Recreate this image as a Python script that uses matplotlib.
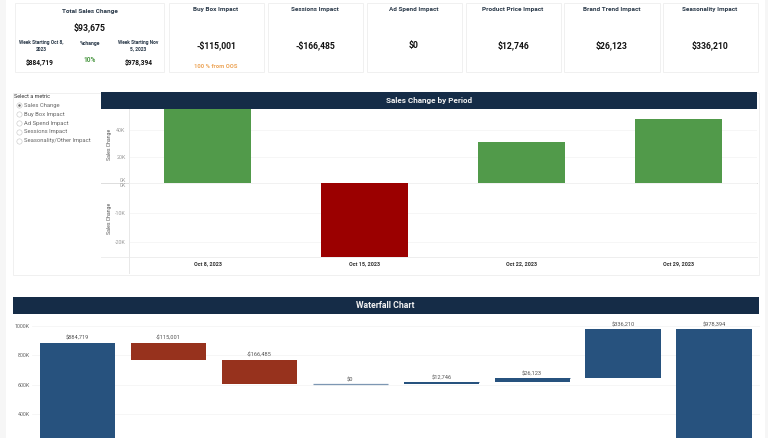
import matplotlib
matplotlib.use("Agg")
import matplotlib.pyplot as plt
from matplotlib.patches import Rectangle

plt.rcParams['font.family'] = ['Roboto', 'DejaVu Sans']

# ---- data ----
card_titles = ["Buy Box Impact", "Sessions Impact", "Ad Spend Impact", "Product Price Impact",
               "Brand Trend Impact", "Seasonality Impact"]
card_values = ["-$115,001", "-$166,485", "$0", "$12,746", "$26,123", "$336,210"]
total_title = "Total Sales Change"
total_value = "$93,675"
start_label = "Week Starting Oct 8,\n2023"
end_label = "Week Starting Nov\n5, 2023"
start_value = "$884,719"
end_value = "$978,394"
pct_label = "%change"
pct_value = "10%"
oos_note = "100 % from OOS"
metrics = ["Sales Change", "Buy Box Impact", "Ad Spend Impact", "Sessions Impact", "Seasonality/Other Impact"]

periods = ["Oct 8, 2023", "Oct 15, 2023", "Oct 22, 2023", "Oct 29, 2023"]
pos_changes = [55500, 0, 31000, 48300]
neg_changes = [0, -25100, 0, 0]
pos_ticks = [0, 20000, 40000]
neg_ticks = [0, -10000, -20000]

wf_labels = ["$884,719", "-$115,001", "-$166,485", "$0", "$12,746", "$26,123", "$336,210", "$978,394"]
wf_bottoms = [0, 769718, 603233, 603233, 603233, 615979, 642102, 0]
wf_tops = [884719, 884719, 769718, 603233, 615979, 642102, 978312, 978394]
wf_colors = ["#27527E", "#97321D", "#97321D", "#27527E", "#27527E", "#27527E", "#27527E", "#27527E"]
wf_ticks = [400000, 600000, 800000, 1000000]

W, H = 768, 438
NAVY = "#152C47"
DARK = "#222222"
GRAY = "#9a9a9a"
GRID = "#f5f5f5"
BORDER = "#f0f0f0"


def axes_px(x0, y0, x1, y1):
    return fig.add_axes([x0 / W, 1 - y1 / H, (x1 - x0) / W, (y1 - y0) / H])


def kfmt(v):
    return f"{v / 1000:.0f}K"


fig = plt.figure(figsize=(W / 100, H / 100), dpi=100, facecolor="white")

# page overlay in pixel coordinates
bg = fig.add_axes([0, 0, 1, 1], zorder=0)
bg.set_xlim(0, W)
bg.set_ylim(H, 0)
bg.axis("off")
bg.add_patch(Rectangle((0, 0), 6, H, fc="#f6f6f6", ec="none"))
bg.add_patch(Rectangle((765, 0), 3, H, fc="#f6f6f6", ec="none"))


def box(x0, y0, x1, y1):
    bg.add_patch(Rectangle((x0, y0), x1 - x0, y1 - y0, fc="white", ec=BORDER, lw=0.7))


def label(x, y, s, size=5.0, color=DARK, weight="normal", **kw):
    bg.text(x, y, s, fontsize=size, color=color, fontweight=weight, ha=kw.pop("ha", "center"),
            va=kw.pop("va", "center"), **kw)


# KPI cards
box(14.5, 2.5, 164, 71.5)
label(89.5, 12, total_title, 4.6, "#2b3a4a", "bold")
label(89.5, 27.5, total_value, 6.2, "#111111", "bold")
label(41, 46, start_label, 3.5, "#2b3a4a", "bold", linespacing=1.3)
label(138.5, 46, end_label, 3.5, "#2b3a4a", "bold", linespacing=1.3)
label(89.5, 43, pct_label, 3.7, "#2b3a4a", "bold")
label(89.5, 60, pct_value, 4.8, "#4f9a47", "bold")
label(40, 63, start_value, 4.8, "#111111", "bold")
label(138.5, 63, end_value, 4.8, "#111111", "bold")

card_x = [(168.5, 263.5), (267.5, 362.5), (366.5, 461.5), (465.5, 560.5), (563.5, 659.5), (662.5, 757.5)]
for (x0, x1), t, v in zip(card_x, card_titles, card_values):
    box(x0, 2.5, x1, 71.5)
    cx = (x0 + x1) / 2
    label(cx, 10, t, 4.6, "#2b3a4a", "bold")
    label(cx, 48.2, v, 6.2, "#111111", "bold", va="baseline")
label(216, 66.5, oos_note, 4.2, "#eda65a", "bold")

# top chart frame and metric selector
box(12.5, 92.5, 759, 275)
label(14.5, 96, "Select a metric", 4.0, "#333333", ha="left")
for i, m in enumerate(metrics):
    y = 105.3 + i * 8.85
    bg.plot([19], [y], "o", ms=3.8, mfc="white", mec="#c4c4c4", mew=0.4)
    if i == 0:
        bg.plot([19], [y], "o", ms=1.8, color="#666666", mew=0)
    label(23.5, y, m, 4.2, "#666666", ha="left")

# title bars
bg.add_patch(Rectangle((101, 92), 656, 16.5, fc=NAVY, ec="none"))
label(429, 100.5, "Sales Change by Period", 5.9, "#f2f2f2", "bold")
bg.add_patch(Rectangle((12.5, 296.5), 746.5, 17, fc=NAVY, ec="none"))
label(385.5, 305, "Waterfall Chart", 6.2, "#f2f2f2", "bold")

xs = range(len(periods))

# upper panel
ax1 = axes_px(129, 109, 757, 183.3)
ax1.patch.set_alpha(0)
ax1.bar(xs, pos_changes, width=0.55, color="#519A4A", zorder=3)
ax1.set_xlim(-0.5, 3.5)
ax1.set_ylim(0, 55700)
ax1.set_yticks(pos_ticks, [kfmt(v) for v in pos_ticks], fontsize=3.9, color=GRAY)
ax1.get_yticklabels()[0].set_verticalalignment("bottom")
ax1.set_xticks([])
ax1.tick_params(length=0, pad=2.5)
ax1.grid(axis="y", color=GRID, lw=0.6, zorder=0)
ax1.set_ylabel("Sales Change", fontsize=3.7, color="#555555")
ax1.yaxis.set_label_coords(-17 / 628, 0.53)

# lower panel
ax2 = axes_px(129, 183.3, 757, 257)
ax2.patch.set_alpha(0)
ax2.bar(xs, neg_changes, width=0.55, color="#9B0000", zorder=3)
ax2.set_xlim(-0.5, 3.5)
ax2.set_ylim(-25150, 0)
ax2.set_yticks(neg_ticks, [kfmt(v) for v in neg_ticks], fontsize=3.9, color=GRAY)
ax2.get_yticklabels()[0].set_verticalalignment("top")
ax2.set_xticks(list(xs), periods, fontsize=3.9, color="#333333", fontweight="bold")
ax2.tick_params(length=0, pad=2.5)
ax2.tick_params(axis="x", pad=3)
ax2.grid(axis="y", color=GRID, lw=0.6, zorder=0)
ax2.set_ylabel("Sales Change", fontsize=3.7, color="#555555")
ax2.yaxis.set_label_coords(-17 / 628, 0.52)

for ax in (ax1, ax2):
    for s in ax.spines.values():
        s.set_visible(False)
    ax.spines["left"].set_visible(True)
    ax.spines["left"].set_color("#e8e8e8")
    ax.spines["left"].set_linewidth(0.7)
bg.plot([101, 757], [183.3, 183.3], color="#dddddd", lw=0.7)
bg.plot([101, 757], [257, 257], color="#eeeeee", lw=0.7)
bg.plot([129, 129], [257, 273], color="#e8e8e8", lw=0.7)

# waterfall
ax3 = axes_px(32, 314, 759.5, 438)
ax3.patch.set_alpha(0)
wf_x = range(len(wf_labels))
wf_h = [t - b for t, b in zip(wf_tops, wf_bottoms)]
ax3.bar(wf_x, wf_h, bottom=wf_bottoms, width=0.827, color=wf_colors, zorder=3)
# the $0 step has no height, so it is drawn as a thin line
ax3.hlines(wf_tops[3], 3 - 0.413, 3 + 0.413, color="#7d97b3", lw=0.9, zorder=3)
# small steps keep a visible edge
for i in (4, 5):
    ax3.hlines(wf_tops[i], i - 0.413, i + 0.413, color="#27527E", lw=0.6, zorder=3)
for x, t, s in zip(wf_x, wf_tops, wf_labels):
    ax3.annotate(s, (x, t), xytext=(0, 2.2), textcoords="offset points", ha="center", va="baseline",
                 fontsize=4.1, color="#555555", zorder=4)
ax3.set_xlim(-0.5, 7.5)
ax3.set_ylim(236000, 1082000)
ax3.set_yticks(wf_ticks, [kfmt(v) for v in wf_ticks], fontsize=3.9, color="#666666")
ax3.set_xticks([])
ax3.tick_params(length=0, pad=1.5)
ax3.grid(axis="y", color=GRID, lw=0.6, zorder=0)
for s in ax3.spines.values():
    s.set_visible(False)

fig.savefig("out.png", dpi=100, facecolor="white")
